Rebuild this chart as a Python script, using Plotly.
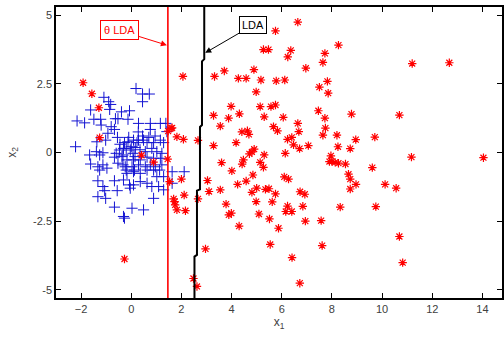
import plotly.graph_objects as go

# Class 2 (red asterisks)
red_x = [6.64, 5.75, 8.26, 6.36, 6.24, 7.72, 7.64, 6.96, 5.78, 6.12, 7.82, 7.50, 7.85, 5.75, 5.57,
         6.06, 7.46, 7.72, 8.78, 6.64, 6.68, 5.67, 5.83, 7.74, 7.64, 8.20, 8.95, 9.71, 6.23, 6.40,
         6.47, 7.06, 6.71, 8.24, 8.73, 11.2, 12.68, 10.69, 2.06, 3.32, 3.71, 4.27, 4.58, 4.89, 5.17,
         5.27, 5.47, 4.98, 3.98, 5.14, 3.28, 3.88, 4.31, 5.30, 3.55, 4.41, 4.63, 4.69, 4.18, 3.28,
         2.66, 1.63, 1.82, 2.08, 4.90, -1.92, -1.57, -1.29, -1.26, 1.59, 1.47, 0.41, 0.89, 1.45, 1.53,
         2.00, 1.69, 1.73, 1.75, 1.82, 2.11, 2.16, -0.27, 3.60, 4.01, 4.42, 4.47, 4.71, 4.81, 5.30,
         5.14, 5.27, 4.85, 4.58, 4.24, 3.04, 3.10, 3.55, 2.66, 3.78, 4.98, 4.81, 5.00, 5.35, 5.49,
         5.75, 5.62, 3.89, 3.99, 5.09, 5.51, 4.30, 5.87, 5.54, 2.96, 2.48, 2.62, 6.14, 7.96, 8.00,
         8.13, 8.26, 7.90, 8.54, 8.66, 8.73, 8.96, 8.73, 9.61, 10.12, 8.33, 9.75, 6.10, 6.27, 6.73,
         6.92, 6.23, 6.16, 6.40, 6.84, 6.94, 7.57, 7.61, 6.41, 6.72, 11.17, 14.04, 10.56, 10.69, 10.82]
red_y = [4.75, 4.43, 3.91, 3.72, 3.48, 3.61, 3.28, 3.07, 2.61, 2.64, 2.59, 2.38, 2.16, 1.73, 1.67,
         1.28, 1.52, 1.25, 1.40, 1.06, 0.76, 0.94, 0.79, 0.89, 0.63, 0.63, 0.47, 0.56, 0.48, 0.55,
         0.28, 0.25, 0.14, 0.21, 0.14, 3.24, 3.27, 1.36, 2.77, 2.77, 2.97, 2.70, 2.70, 3.02, 2.64,
         3.75, 3.75, 2.21, 1.68, 1.67, 1.35, 1.25, 1.41, 1.30, 0.96, 0.75, 0.79, 0.66, 0.36, 0.25,
         0.44, 0.90, 0.57, 0.48, 0.12, 2.54, 2.14, 1.63, 0.54, 0.88, 0.78, -0.10, -0.35, -0.24, -1.06,
         -0.97, -1.69, -1.79, -1.91, -2.09, -1.55, -2.12, -3.88, -0.37, -0.67, -0.42, -0.27, -0.05, 0.02, -0.09,
         -0.36, -0.54, -0.82, -1.04, -1.16, -1.02, -1.42, -1.36, -1.69, -1.88, -1.79, -1.45, -1.30, -1.34, -1.32,
         -1.51, -1.80, -2.27, -2.21, -2.24, -2.42, -2.68, -2.76, -3.35, -3.51, -4.59, -4.88, -0.03, -0.12, -0.33,
         -0.36, -0.39, -0.33, -0.42, -0.79, -0.97, -1.16, -1.33, -0.55, -1.16, -1.99, -1.97, -0.89, -0.97, -1.43,
         -1.52, -1.95, -2.15, -2.15, -1.96, -2.50, -2.48, -3.39, -3.83, -4.76, -0.17, -0.19, -1.30, -3.06, -4.01]

# Class 1 (blue crosses)
blue_x = [-1.09, -0.90, -0.82, -1.62, -0.86, -0.39, -0.07, -2.16, -1.86, -1.49, -1.22, -0.63, -0.53, -0.13,
          -1.20, -0.80, -0.67, -0.93, -1.02, -1.37, -2.22, -1.66, -1.39, -1.26, -1.13, -1.62, -1.33, -1.13,
          -0.97, -1.26, -0.60, -0.47, -0.67, -0.33, -0.20, -0.13, -0.27, 0.00, 0.07, -0.33, -0.20, 0.13,
          -0.53, 0.19, 0.45, 0.72, 0.45, 0.29, 0.76, 1.16, 0.76, 1.38, 1.42, 0.28, 0.09, 0.29, 0.49, 0.23,
          0.63, 0.89, 1.16, 1.29, -0.31, -0.04, 0.16, 0.56, 0.82, 1.02, 1.22, 1.16, 0.89, 0.63, 0.36, 0.09,
          -0.17, -0.37, -0.24, 0.03, 0.29, 0.56, 0.76, 0.96, 1.22, -0.17, 0.09, 0.36, 0.63, 0.89, 1.02, 1.29,
          -0.31, 0.09, -0.04, 0.36, 0.63, 0.82, 1.09, 1.29, 0.89, 0.03, 0.49, -0.31, -1.33, -1.13, -1.06,
          -1.02, -1.33, -0.67, -0.56, -0.07, -0.67, -0.27, 1.63, 2.11, 1.13, 1.63, -0.45, 0.35, 0.15, -0.10,
          0.45, 0.70, -0.55, 0.95]
blue_y = [2.01, 1.85, 1.75, 1.55, 1.57, 1.48, 1.52, 1.15, 1.08, 1.21, 1.21, 1.23, 1.23, 1.21,
          1.00, 0.94, 0.84, 0.70, 0.45, 0.39, 0.21, -0.09, 0.03, -0.09, -0.01, -0.42, -0.52, -0.45,
          -0.57, -0.64, -0.03, 0.09, -0.17, -0.09, 0.15, 0.39, 0.36, 0.21, -0.03, -0.45, -0.64, -0.64,
          -0.39, 2.33, 2.13, 2.13, 1.85, 1.06, 1.06, 1.06, 0.84, 1.06, 0.76, 0.75, 0.45, 0.45, 0.45, 0.36,
          0.36, 0.36, 0.45, 0.36, 0.15, 0.09, 0.18, 0.03, 0.15, 0.03, -0.03, -0.21, -0.21, -0.17, -0.27, -0.27,
          -0.27, -0.15, -0.52, -0.52, -0.45, -0.52, -0.45, -0.52, -0.45, -0.76, -0.70, -0.76, -0.64, -0.64, -0.88, -0.88,
          -1.00, -1.18, -1.30, -1.06, -1.12, -1.24, -1.24, -1.36, -1.67, -2.03, -2.09, -2.33, -1.03, -1.24, -1.39,
          -1.67, -1.61, -1.03, -1.39, -1.18, -1.99, -2.39, -0.70, -0.70, -0.64, -1.12, 0.30, 0.10, -0.15, 0.55,
          0.60, 0.55, 0.55, 0.60]

# Decision boundaries
theta_lda_x = [1.46, 1.46]
theta_lda_y = [-5.3, 5.3]
lda_x = [2.91, 2.91, 2.82, 2.82, 2.74, 2.74, 2.62, 2.62, 2.52, 2.52]
lda_y = [5.3, 3.40, 3.32, 1.00, 0.93, -1.34, -1.39, -3.73, -3.79, -5.3]

x_ticks = [-2, 0, 2, 4, 6, 8, 10, 12, 14]
y_ticks = [-5, -2.5, 0, 2.5, 5]
y_tick_text = ["-5", "-2.5", "0", "2.5", "5"]

FONT = "Liberation Sans, Arial"

fig = go.Figure()
fig.add_trace(go.Scatter(x=blue_x, y=blue_y, mode="markers",
                         marker=dict(symbol="cross-thin-open", size=8, color="#1414d2",
                                     line=dict(width=1, color="#1414d2")),
                         showlegend=False))
fig.add_trace(go.Scatter(x=red_x, y=red_y, mode="markers",
                         marker=dict(symbol="asterisk-open", size=7, color="#ff0000",
                                     line=dict(width=1.2, color="#ff0000")),
                         showlegend=False))
fig.add_trace(go.Scatter(x=theta_lda_x, y=theta_lda_y, mode="lines",
                         line=dict(color="#ff0000", width=1.6), showlegend=False))
fig.add_trace(go.Scatter(x=lda_x, y=lda_y, mode="lines",
                         line=dict(color="#000000", width=2), showlegend=False))

fig.add_annotation(x=1.42, y=3.91, ax=-0.48, ay=4.45, axref="x", ayref="y",
                   text="θ LDA", showarrow=True, arrowhead=2, arrowsize=1.2, arrowwidth=1,
                   arrowcolor="#ff0000", font=dict(family=FONT, size=11, color="#ff0000"),
                   bgcolor="white", bordercolor="#ff0000", borderwidth=1, borderpad=3)
fig.add_annotation(x=2.95, y=3.63, ax=4.87, ay=4.65, axref="x", ayref="y",
                   text="LDA", showarrow=True, arrowhead=2, arrowsize=1.2, arrowwidth=1,
                   arrowcolor="#000000", font=dict(family=FONT, size=11, color="#000000"),
                   bgcolor="white", bordercolor="#000000", borderwidth=1, borderpad=2)

axis_common = dict(showgrid=False, zeroline=False, showline=True, linecolor="black", linewidth=1.5,
                   mirror="allticks", ticks="inside", ticklen=5, tickcolor="black", automargin=False,
                   tickfont=dict(family=FONT, size=11, color="#404040"))
fig.update_xaxes(range=[-3, 14.78], tickvals=x_ticks,
                 title=dict(text="x<sub>1</sub>", font=dict(family=FONT, size=12, color="#404040"),
                            standoff=4), **axis_common)
fig.update_yaxes(range=[-5.3, 5.3], tickvals=y_ticks, ticktext=y_tick_text,
                 title=dict(text="x<sub>2</sub>", font=dict(family=FONT, size=12, color="#404040"),
                            standoff=14), **axis_common)
fig.update_layout(width=504, height=340, margin=dict(l=56, r=2, t=7, b=42, autoexpand=False),
                  paper_bgcolor="white", plot_bgcolor="white", hovermode=False)
fig.write_html("out.html", config={"displayModeBar": False, "displaylogo": False},
               post_script="document.body.style.margin='0';document.body.style.overflow='hidden';")
